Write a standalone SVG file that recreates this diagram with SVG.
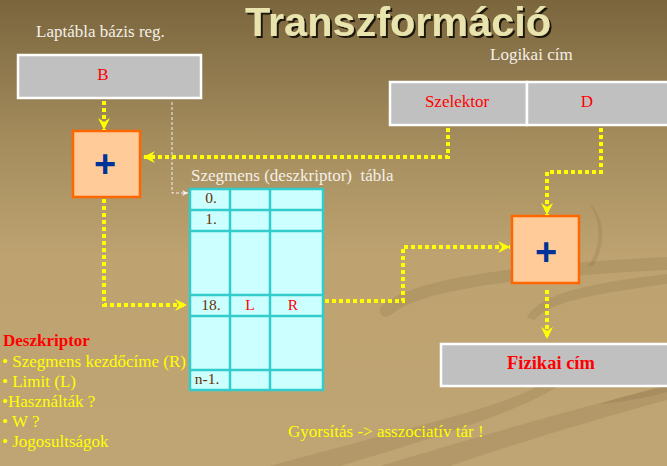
<svg xmlns="http://www.w3.org/2000/svg" width="667" height="466" viewBox="0 0 667 466">
  <defs>
    <linearGradient id="bg" x1="0" y1="0" x2="0" y2="1">
      <stop offset="0" stop-color="#7a653d"/>
      <stop offset="0.3" stop-color="#a48c5d"/>
      <stop offset="0.55" stop-color="#bea371"/>
      <stop offset="1" stop-color="#c0a574"/>
    </linearGradient>
    <filter id="shadow" x="-5%" y="-20%" width="110%" height="140%">
      <feOffset in="SourceAlpha" dx="2" dy="2" result="off"/>
      <feFlood flood-color="#1e1608"/>
      <feComposite in2="off" operator="in" result="sh"/>
      <feMerge>
        <feMergeNode in="sh"/>
        <feMergeNode in="SourceGraphic"/>
      </feMerge>
    </filter>
    <marker id="ya" viewBox="0 0 12 12" markerWidth="12" markerHeight="12" refX="12" refY="6" orient="auto" markerUnits="userSpaceOnUse">
      <path d="M0,0 L12,6 L0,12 L4,6 Z" fill="#ffff00"/>
    </marker>
    <marker id="wa" viewBox="0 0 6 6" markerWidth="6" markerHeight="6" refX="6" refY="3" orient="auto" markerUnits="userSpaceOnUse">
      <path d="M0,0 L6,3 L0,6 L2,3 Z" fill="#f0f0f0"/>
    </marker>
    <style>
      .serif { font-family: "Liberation Serif", "Times New Roman", serif; }
      .lbl { font-size: 17px; fill: #f4f0e8; }
      .red { fill: #ff0000; }
      .yel { font-size: 17px; fill: #ffff00; }
      .gray { fill: #c0c0c0; stroke: #ffffff; stroke-width: 2.5; }
      .plus { fill: #ffcc99; stroke: #ff6600; stroke-width: 2.5; }
      .plustxt { font-family: "Liberation Sans", Arial, sans-serif; font-weight: bold; font-size: 38px; fill: #003399; text-anchor: middle; }
      .cell { fill: #ccffff; stroke: #33cccc; stroke-width: 2.5; }
      .tl { stroke: #33cccc; stroke-width: 2.5; }
      .num { font-size: 15.5px; fill: #663300; text-anchor: middle; }
      .dot { fill: none; stroke: #ffff00; stroke-width: 4; stroke-dasharray: 4 3; marker-end: url(#ya); }
      .thin { fill: none; stroke: #f0f0f0; stroke-width: 1; stroke-dasharray: 3 2; marker-end: url(#wa); }
      .swirl { fill: #6e5632; opacity: 0.16; }
    </style>
  </defs>

  <rect x="0" y="0" width="667" height="466" fill="url(#bg)"/>
  <g id="background-swirl">
    <path class="swirl" d="M380 308 C400 285 480 266 667 257 L667 270 C500 278 420 292 392 314 C384 320 379 315 380 308 Z"/>
    <path class="swirl" d="M527 318 C538 292 600 282 667 274 L667 284 C610 292 548 300 535 320 Z"/>
    <path class="swirl" d="M588 202 C602 218 602 248 588 266 L593 266 C607 244 605 216 588 202 Z"/>
    <path class="swirl" d="M270 466 C400 430 500 408 538 386 L558 386 C520 412 420 442 340 466 Z"/>
    <path class="swirl" d="M380 466 C500 430 600 402 667 386 L667 400 C600 418 520 442 450 466 Z"/>
    <path class="swirl" d="M600 404 C625 396 650 390 667 384 L667 392 C645 398 620 402 600 404 Z"/>
  </g>

  <g id="title">
    <text x="245" y="36" font-family="Liberation Sans, Arial, sans-serif" font-weight="bold" font-size="41" fill="#e9e4ae" textLength="306" lengthAdjust="spacingAndGlyphs" filter="url(#shadow)">Transzformáció</text>
  </g>

  <g id="node-B">
    <text class="serif lbl" x="36" y="37">Laptábla bázis reg.</text>
    <rect class="gray" x="18" y="55" width="183" height="43"/>
    <text class="serif red" x="103" y="80" font-size="17" text-anchor="middle">B</text>
  </g>

  <g id="node-logical-address">
    <text class="serif lbl" x="490" y="60">Logikai cím</text>
    <rect class="gray" x="390" y="82" width="137" height="43"/>
    <rect class="gray" x="527" y="82" width="145" height="43"/>
    <text class="serif red" x="457" y="107" font-size="17" text-anchor="middle">Szelektor</text>
    <text class="serif red" x="587" y="107" font-size="17" text-anchor="middle">D</text>
  </g>

  <g id="node-plus1">
    <rect class="plus" x="73" y="131" width="67" height="66"/>
    <text class="plustxt" x="105" y="177">+</text>
  </g>

  <g id="node-plus2">
    <rect class="plus" x="512" y="216" width="67" height="67"/>
    <text class="plustxt" x="546" y="265">+</text>
  </g>

  <g id="node-table">
    <text class="serif lbl" x="191" y="181" style="white-space: pre">Szegmens (deszkriptor)  tábla</text>
    <rect class="cell" x="190" y="189" width="133" height="201"/>
    <line class="tl" x1="230" y1="189" x2="230" y2="390"/>
    <line class="tl" x1="270" y1="189" x2="270" y2="390"/>
    <line class="tl" x1="190" y1="210" x2="323" y2="210"/>
    <line class="tl" x1="190" y1="231" x2="323" y2="231"/>
    <line class="tl" x1="190" y1="295" x2="323" y2="295"/>
    <line class="tl" x1="190" y1="316" x2="323" y2="316"/>
    <line class="tl" x1="190" y1="370" x2="323" y2="370"/>
    <text class="serif num" x="211" y="203">0.</text>
    <text class="serif num" x="211" y="224">1.</text>
    <text class="serif num" x="211" y="310">18.</text>
    <text class="serif red" x="250" y="310" font-size="15.5" text-anchor="middle">L</text>
    <text class="serif red" x="293" y="310" font-size="15.5" text-anchor="middle">R</text>
    <text class="serif num" x="207" y="384">n-1.</text>
  </g>

  <g id="node-physical-address">
    <rect class="gray" x="441" y="344" width="232" height="42"/>
    <text class="serif red" x="551" y="369" font-size="18.5" font-weight="bold" text-anchor="middle">Fizikai cím</text>
  </g>

  <g id="descriptor-list" class="serif">
    <text x="3" y="346" font-size="17" font-weight="bold" fill="#ff0000">Deszkriptor</text>
    <text class="yel" x="2" y="367">• Szegmens kezdőcíme (R)</text>
    <text class="yel" x="2" y="387">• Limit (L)</text>
    <text class="yel" x="2" y="407">•Használták ?</text>
    <text class="yel" x="2" y="427">• W ?</text>
    <text class="yel" x="2" y="447">• Jogosultságok</text>
  </g>

  <g id="note">
    <text class="serif yel" x="288" y="437">Gyorsítás -&gt; asszociatív tár !</text>
  </g>

  <g id="connectors">
    <path class="dot" d="M104 101 L104 130"/>
    <path class="dot" d="M448 128 L448 157 L143 157"/>
    <path class="dot" d="M104 199 L104 305 L187 305"/>
    <path class="dot" d="M325 301 L403 301 L403 247 L510 247"/>
    <path class="dot" d="M601 128 L601 172 L547 172 L547 215"/>
    <path class="dot" d="M547 290 L547 339"/>
    <path class="thin" d="M172 102 L172 193 L188 193"/>
  </g>
</svg>
